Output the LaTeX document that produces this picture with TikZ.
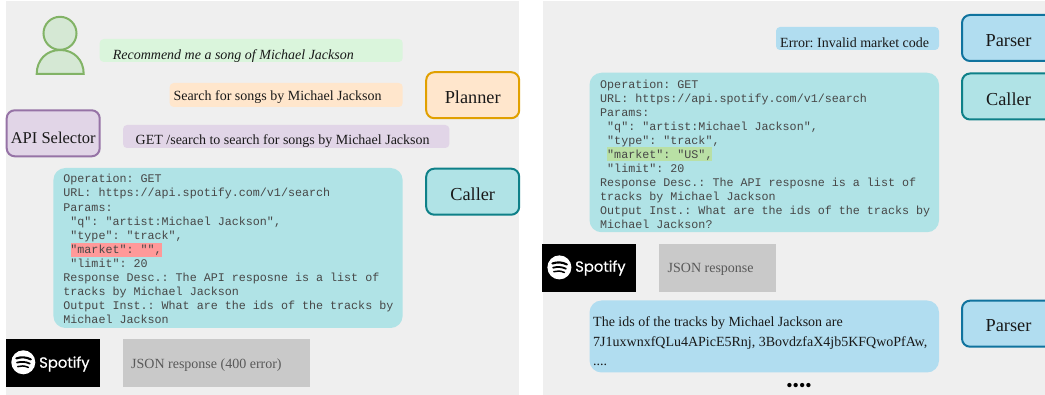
\documentclass[tikz,border=0pt]{standalone}
\usepackage{fontspec}
\setmainfont{Liberation Serif}
\setmonofont{Liberation Mono}
\newfontfamily\logofont[FakeBold=0.5]{Poppins}
\definecolor{panel}{HTML}{EFEFEF}
\definecolor{usergreen}{HTML}{DAF5DC}
\definecolor{personfill}{HTML}{D5E8D4}
\definecolor{personline}{HTML}{82B366}
\definecolor{plannerfill}{HTML}{FFE6CC}
\definecolor{plannerline}{HTML}{E1A000}
\definecolor{selectorfill}{HTML}{E1D5E7}
\definecolor{selectorline}{HTML}{9673A6}
\definecolor{callerfill}{HTML}{B0E3E6}
\definecolor{callerline}{HTML}{0E8088}
\definecolor{parserfill}{HTML}{B1DDF0}
\definecolor{parserline}{HTML}{10739E}
\definecolor{badhl}{HTML}{FF9999}
\definecolor{goodhl}{HTML}{B9E0A5}
\definecolor{respgrey}{HTML}{C9C9C9}
\tikzset{
  agent/.style={draw,line width=2pt,rounded corners=8pt,minimum width=93pt,minimum height=46pt,inner sep=0pt,text height=17.4pt,text depth=0pt,font=\fontsize{18.3}{20}\selectfont,text=black!90},
  bubble/.style={rounded corners=4pt,inner sep=0pt},
  bigbubble/.style={rounded corners=12pt,inner sep=0pt},
  msg/.style={anchor=west,inner sep=0pt,font=\fontsize{14}{16}\selectfont,text=black!90},
  codetext/.style={anchor=north west,inner sep=0pt,align=left,text=black!72},
  resp/.style={fill=respgrey,inner sep=0pt},
  resptext/.style={anchor=west,inner sep=0pt,font=\fontsize{14}{16}\selectfont,text=black!65},
  logobox/.style={fill=black,inner sep=0pt},
  logotext/.style={anchor=west,inner sep=0pt,text=white,font=\logofont\fontsize{14.8}{16}\selectfont},
  logodisc/.style={circle,fill=white,inner sep=0pt,minimum size=24pt},
  wave/.style={black,line width=2.1pt,line cap=round}
}
\begin{document}
\frenchspacing
\begin{tikzpicture}[x=1pt,y=-1pt]
\clip (0,0) rectangle (1045,395);
\fill[white] (0,0) rectangle (1045,395);
% panels
\fill[panel] (6,1) rectangle (519,395);
\fill[panel] (543,1) rectangle (1045,395);

% person
\draw[personline,fill=personfill,line width=2pt] (36.7,74) -- (83.7,74) .. controls (83.7,60) and (74,50) .. (60.2,50) .. controls (46.5,50) and (36.7,60) .. (36.7,74) -- cycle;
\node[circle,draw=personline,fill=personfill,line width=2pt,minimum size=33pt,inner sep=0pt] (head) at (60,33.3) {};

% left panel messages
\node[bubble,fill=usergreen,minimum width=303pt,minimum height=23pt] (userbox) at (251.2,50.5) {};
\node[msg,font=\fontsize{14}{16}\itshape] (usertext) at (112.6,56) {Recommend me a song of Michael Jackson};
\node[bubble,fill=plannerfill,minimum width=233pt,minimum height=24pt] (planbox) at (286.2,95) {};
\node[msg] (plantext) at (173.3,97) {Search for songs by Michael Jackson};
\node[agent,draw=plannerline,fill=plannerfill,text height=16pt] (planner) at (472.7,95.2) {Planner};
\node[agent,draw=selectorline,fill=selectorfill,text height=19.6pt,font=\fontsize{16.5}{18}\selectfont] (selector) at (53.2,133.3) {API Selector};
\node[bubble,fill=selectorfill,minimum width=326.3pt,minimum height=23pt] (selbox) at (286.2,136.5) {};
\node[msg] (seltext) at (135.5,141.5) {GET /search to search for songs by Michael Jackson};
\node[agent,draw=callerline,fill=callerfill,text height=18.6pt] (caller1) at (472.7,191.7) {Caller};

% left code
\node[bigbubble,fill=callerfill,minimum width=349.2pt,minimum height=160pt] (code1) at (228,248) {};
\fill[badhl] (71,243) rectangle (161.6,257);
\node[codetext,font=\fontsize{11.7}{14.02}\ttfamily] (code1text) at (63.2,174.3) {Operation: GET\\URL: https://api.spotify.com/v1/search\\Params:\\\ "q": "artist:Michael Jackson",\\\ "type": "track",\\\ "market": "",\\\ "limit": 20\\Response Desc.: The API resposne is a list of\\tracks by Michael Jackson\\Output Inst.: What are the ids of the tracks by\\Michael Jackson};

% left spotify
\node[logobox,minimum width=94pt,minimum height=48pt] (spot1) at (53,363) {};
\node[logodisc] (disc1) at (23.3,362.3) {};
\draw[wave] (16.3,358.4) .. controls (21.3,356.8) and (25.8,356.8) .. (30.8,359.4);
\draw[wave,line width=1.8pt] (17,362.6) .. controls (21.3,361.5) and (25.3,361.5) .. (29.8,363.6);
\draw[wave,line width=1.5pt] (17.7,366.6) .. controls (21.3,365.6) and (24.3,365.6) .. (28.3,367.4);
\node[logotext] (logo1) at (39,364) {Spotify};
\node[resp,minimum width=187pt,minimum height=48pt] (resp1) at (216.5,363) {};
\node[resptext] (resp1text) at (131,365) {JSON response (400 error)};

% right panel
\node[bubble,fill=parserfill,minimum width=163pt,minimum height=23pt] (errbox) at (857.5,38.5) {};
\node[msg] (errtext) at (780,43) {Error: Invalid market code};
\node[agent,draw=parserline,fill=parserfill] (parser1) at (1008.5,38) {Parser};
\node[agent,draw=callerline,fill=callerfill] (caller2) at (1008.5,96.5) {Caller};

\node[bigbubble,fill=callerfill,minimum width=349.5pt,minimum height=159.5pt] (code2) at (764.25,152.5) {};
\fill[goodhl] (607.3,147.3) rectangle (711.7,161);
\node[codetext,font=\fontsize{11.7}{14}\ttfamily] (code2text) at (600,79.8) {Operation: GET\\URL: https://api.spotify.com/v1/search\\Params:\\\ "q": "artist:Michael Jackson",\\\ "type": "track",\\\ "market": "US",\\\ "limit": 20\\Response Desc.: The API resposne is a list of\\tracks by Michael Jackson\\Output Inst.: What are the ids of the tracks by\\Michael Jackson?};

\node[logobox,minimum width=94pt,minimum height=48pt] (spot2) at (589,268) {};
\node[logodisc] (disc2) at (559.4,267.4) {};
\draw[wave] (552.4,263.5) .. controls (557.4,261.9) and (561.9,261.9) .. (566.9,264.5);
\draw[wave,line width=1.8pt] (553.1,267.7) .. controls (557.4,266.6) and (561.4,266.6) .. (565.9,268.7);
\draw[wave,line width=1.5pt] (553.8,271.7) .. controls (557.4,270.7) and (560.4,270.7) .. (564.4,272.5);
\node[logotext] (logo2) at (575,268) {Spotify};
\node[resp,minimum width=117pt,minimum height=48pt] (resp2) at (717.5,268) {};
\node[resptext] (resp2text) at (667.5,269) {JSON response};

\node[bigbubble,fill=parserfill,minimum width=349.5pt,minimum height=72pt] (answer) at (764.25,336.5) {};
\node[msg,anchor=north west,align=left,font=\fontsize{14}{19.5}\selectfont] (answertext) at (593,316.5) {The ids of the tracks by Michael Jackson are\\7J1uxwnxfQLu4APicE5Rnj, 3BovdzfaX4jb5KFQwoPfAw,\\....};
\node[agent,draw=parserline,fill=parserfill,text height=15pt] (parser2) at (1008.5,323.7) {Parser};
\node[inner sep=0pt,font=\fontsize{18}{19}\selectfont] (dots) at (799,387) {••••};
\end{tikzpicture}
\end{document}
